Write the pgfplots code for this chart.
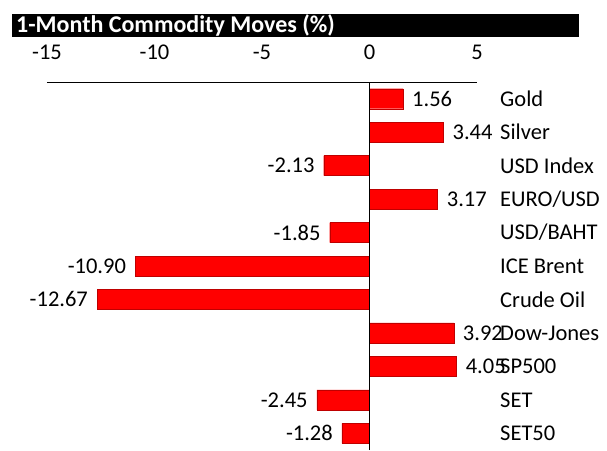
\documentclass[border=0pt]{standalone}
\usepackage{pgfplots}
\pgfplotsset{compat=1.18}
\usepackage{fontspec}
\setmainfont{Carlito}
\begin{document}
\begin{tikzpicture}[x=1pt,y=1pt]
\useasboundingbox (-47,0) rectangle (560,450);
\fill[black] (-35,413) rectangle (532,436);
\node[anchor=west, text=white, font=\fontsize{24}{24}\selectfont\bfseries, inner sep=0pt] at (-31,425) {1-Month Commodity Moves (\%)};
\begin{axis}[
  at={(0,0)}, anchor=south west,
  width=430pt, height=368pt, scale only axis,
  xbar, bar width=20pt,
  xmin=-15, xmax=5, ymin=-0.5, ymax=10.5,
  axis x line*=top, axis y line*=right,
  y axis line style={draw=none},
  x axis line style={black, line width=0.8pt},
  major tick length=0pt,
  xtick={-15,-10,...,5},
  ytick={0,...,10},
  yticklabels={SET50,SET,SP500,Dow-Jones,Crude Oil,ICE Brent,USD/BAHT,EURO/USD,USD Index,Silver,Gold},
  ticklabel style={font=\fontsize{22.5}{22.5}\selectfont},
  yticklabel style={anchor=west, inner sep=0pt, xshift=23pt},
  xticklabel style={anchor=south, inner sep=0pt, yshift=22pt},
  /pgf/number format/assume math mode=true,
  nodes near coords,
  nodes near coords style={font=\fontsize{22.5}{22.5}\selectfont, inner xsep=9pt, inner ysep=0pt, /pgf/number format/fixed, /pgf/number format/fixed zerofill, /pgf/number format/precision=2},
]
\addplot[fill=red, draw=red!75!black, line width=0.4pt] coordinates {(1.56,10) (3.44,9) (-2.13,8) (3.17,7) (-1.85,6) (-10.90,5) (-12.67,4) (3.92,3) (4.05,2) (-2.45,1) (-1.28,0)};
\draw[black, line width=0.8pt] (axis cs:0,-0.5) -- (axis cs:0,10.5);
\end{axis}
\end{tikzpicture}
\end{document}
